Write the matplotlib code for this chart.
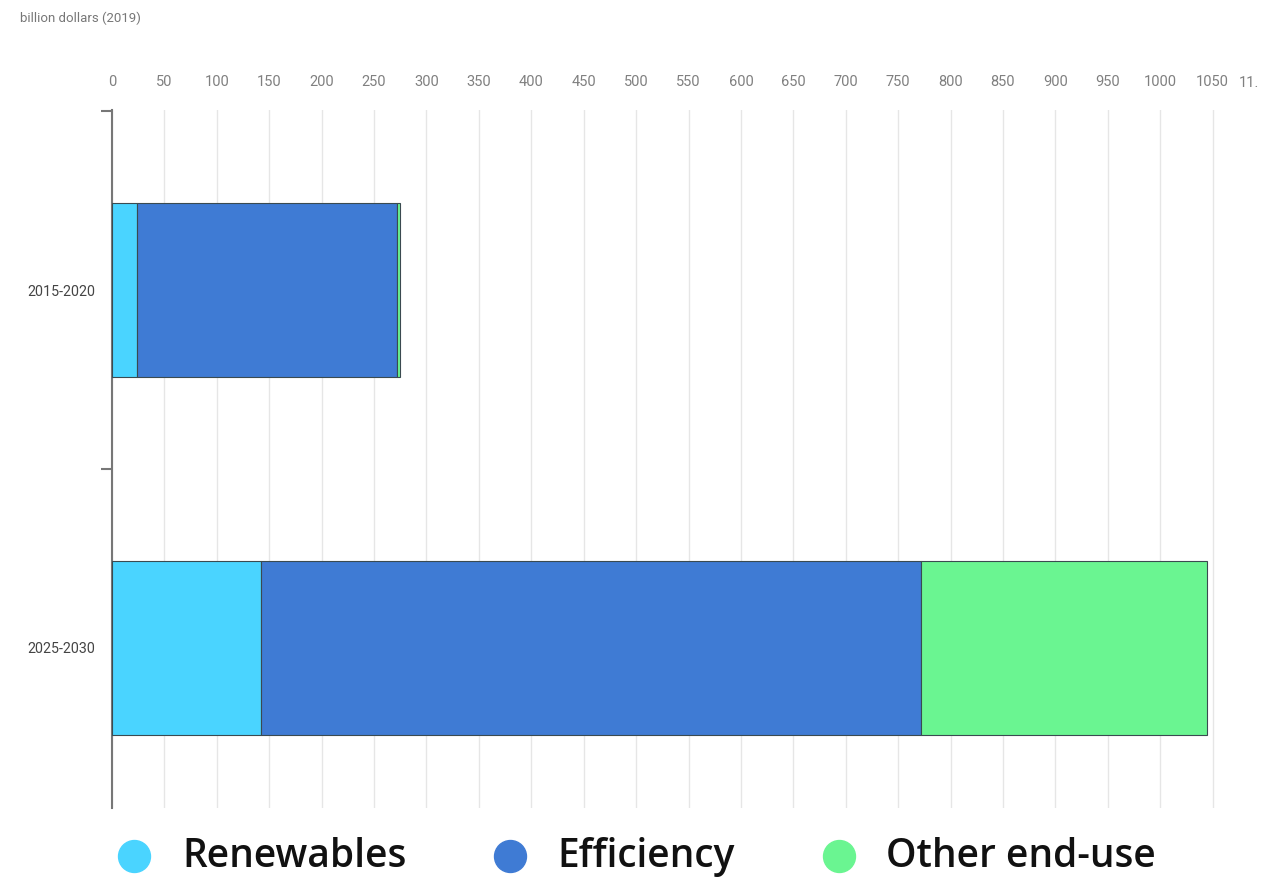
import matplotlib
matplotlib.use("Agg")
import matplotlib.pyplot as plt
from matplotlib.lines import Line2D

categories = ["2015-2020", "2025-2030"]
series_names = ["Renewables", "Efficiency", "Other end-use"]
renewables = [24, 142]
efficiency = [248, 630]
other_end_use = [3, 273]
colors = ["#4AD4FF", "#3F7BD4", "#6AF591"]
tick_values = list(range(0, 1051, 50))
tick_labels = [str(v) for v in tick_values]
unit_label = "billion dollars (2019)"

W, H = 1276, 877
fig = plt.figure(figsize=(W / 100, H / 100), dpi=100)
ax = fig.add_axes([112 / W, 1 - 808 / H, (1265 - 112) / W, (808 - 110) / H])

series = [renewables, efficiency, other_end_use]
ypos = list(range(len(categories)))
left = [0] * len(categories)
for vals, col, name in zip(series, colors, series_names):
    ax.barh(ypos, vals, left=left, height=0.485, color=col,
            edgecolor="#3a4a50", linewidth=0.8, label=name, zorder=3)
    left = [l + v for l, v in zip(left, vals)]

ax.xaxis.tick_top()
ax.set_xticks(tick_values)
ax.set_xticklabels(tick_labels, fontsize=10.5, color="#808080", family="Roboto")
ax.tick_params(axis="x", length=0, pad=15)
ax.grid(axis="x", color="#e6e6e6", linewidth=1, zorder=0)
fig.text(1249 / W, 1 - 83 / H, "11.", ha="center", va="center",
         fontsize=10.5, color="#808080", family="Roboto")

ax.set_yticks([-0.5, 0.5])
ax.set_yticklabels([])
ax.set_yticks(ypos, minor=True)
ax.set_yticklabels(categories, minor=True, fontsize=10.3, color="#444444", family="Roboto")
ax.tick_params(axis="y", which="major", length=8, color="#777777", width=1.5)
ax.tick_params(axis="y", which="minor", length=0, pad=12)
ax.set_xlim(0, 1100)
ax.set_ylim(1.447, -0.503)

for s in ["top", "right", "bottom"]:
    ax.spines[s].set_visible(False)
ax.spines["left"].set_color("#777777")
ax.spines["left"].set_linewidth(1.5)

fig.text(20 / W, 1 - 18 / H, unit_label, ha="left", va="center",
         fontsize=9.5, color="#777777", family="Roboto")

leg_marker_x = [134, 510, 839]
leg_text_x = [182, 557, 886]
for mx, tx, col, name in zip(leg_marker_x, leg_text_x, colors, series_names):
    fig.add_artist(Line2D([mx / W], [1 - 856 / H], marker="o", markersize=23, color=col,
                          linestyle="none", transform=fig.transFigure))
    fig.text(tx / W, 1 - 867 / H, name, ha="left", va="baseline", fontsize=28,
             fontweight="semibold", family="Open Sans", color="#111111")

fig.savefig("out.png", dpi=100)
